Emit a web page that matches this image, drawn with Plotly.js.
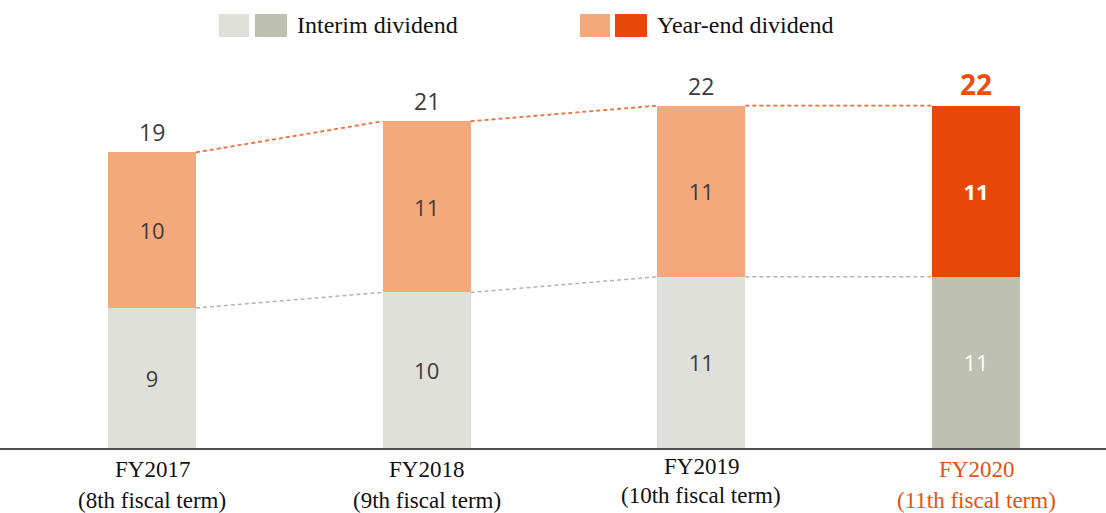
<!DOCTYPE html>
<html>
<head>
<meta charset="utf-8">
<script src="https://cdn.plot.ly/plotly-3.0.1.min.js"></script>
<style>html,body{margin:0;padding:0;background:#fff;}#chart{width:1106px;height:513px;}</style>
</head>
<body>
<div id="chart"></div>
<script>
// ---- data ----
const years = ["FY2017", "FY2018", "FY2019", "FY2020"];
const terms = ["(8th fiscal term)", "(9th fiscal term)", "(10th fiscal term)", "(11th fiscal term)"];
const interim = [9, 10, 11, 11];
const yearEnd = [10, 11, 11, 11];
const legendNames = ["Interim dividend", "Year-end dividend"];

// ---- styles ----
const interimColors = ["#DFE0D9", "#DFE0D9", "#DFE0D9", "#BEC1B1"];
const yearEndColors = ["#F4A97C", "#F4A97C", "#F4A97C", "#E8470A"];
const labelColors = ["#3c3c3c", "#3c3c3c", "#3c3c3c", "#ffffff"];
const accent = "#E9500F";
const barW = 0.32;
const W = 1106, H = 513, mT = 59, mB = 65;
const plotH = H - mT - mB;

const xs = years.map((_, i) => i);
const totals = interim.map((v, i) => v + yearEnd[i]);
const last = years.length - 1;

function connector(vals) {
  const x = [], y = [];
  for (let i = 0; i < vals.length - 1; i++) {
    x.push(i + barW / 2, i + 1 - barW / 2, null);
    y.push(vals[i], vals[i + 1], null);
  }
  return {x, y};
}
const cTot = connector(totals);
const cInt = connector(interim);

const traces = [
  {
    type: "bar", x: xs, y: interim, width: barW,
    marker: {color: interimColors, line: {width: 0}},
    text: interim.map(String), textposition: "inside", insidetextanchor: "middle",
    textfont: {family: "Open Sans", size: 22, color: labelColors},
    constraintext: "none", hoverinfo: "skip"
  },
  {
    type: "bar", x: xs, y: yearEnd, width: barW,
    marker: {color: yearEndColors, line: {width: 0}},
    text: yearEnd.map((v, i) => i === last ? "<b>" + v + "</b>" : String(v)),
    textposition: "inside", insidetextanchor: "middle",
    textfont: {family: "Open Sans", size: 22, color: labelColors},
    constraintext: "none", hoverinfo: "skip"
  },
  {
    type: "scatter", mode: "lines", x: cTot.x, y: cTot.y,
    line: {color: "#EE6E3C", width: 1.8, dash: "4px,3px"}, hoverinfo: "skip"
  },
  {
    type: "scatter", mode: "lines", x: cInt.x, y: cInt.y,
    line: {color: "#B4B4AC", width: 1.5, dash: "4px,3px"}, hoverinfo: "skip"
  }
];

// value labels on top
const annotations = [];
totals.forEach((t, i) => {
  annotations.push({
    x: i, y: t, xref: "x", yref: "y", yanchor: "bottom", yshift: i === last ? 1 : 2,
    text: i === last ? "<b>" + t + "</b>" : String(t), showarrow: false,
    font: {family: "Open Sans", size: i === last ? 28 : 23, color: i === last ? accent : "#3c3c3c"}
  });
});

// x category labels
function py(px) { return (H - mB - px) / plotH; }
function pxx(px) { return px / W; }
years.forEach((yr, i) => {
  const off = i === 2 ? -4 : 0;
  const col = i === last ? accent : "#111111";
  annotations.push({x: i, y: py(470 + off), xref: "x", yref: "paper", yanchor: "middle",
    text: yr, showarrow: false, font: {family: "Liberation Serif", size: 23, color: col}});
  annotations.push({x: i, y: py(500 + off), xref: "x", yref: "paper", yanchor: "middle",
    text: terms[i], showarrow: false, font: {family: "Liberation Serif", size: 23, color: col}});
});

// legend
const shapes = [];
function swatch(x0, x1, color) {
  shapes.push({type: "rect", xref: "paper", yref: "paper", x0: pxx(x0), x1: pxx(x1),
    y0: py(37), y1: py(14), fillcolor: color, line: {width: 0}});
}
swatch(219, 249, interimColors[0]);
swatch(255, 287, interimColors[last]);
swatch(580, 610, yearEndColors[0]);
swatch(615, 647, yearEndColors[last]);
annotations.push({x: pxx(295), y: py(25), xref: "paper", yref: "paper", xanchor: "left", yanchor: "middle",
  text: legendNames[0], showarrow: false, font: {family: "Liberation Serif", size: 24, color: "#111"}});
annotations.push({x: pxx(655), y: py(25), xref: "paper", yref: "paper", xanchor: "left", yanchor: "middle",
  text: legendNames[1], showarrow: false, font: {family: "Liberation Serif", size: 24, color: "#111"}});

const layout = {
  width: W, height: H,
  margin: {l: 0, r: 0, t: mT, b: mB, pad: 0},
  paper_bgcolor: "#fff", plot_bgcolor: "#fff",
  barmode: "stack", showlegend: false,
  xaxis: {range: [-152 / 274.67, 3 + 130 / 274.67], showgrid: false, zeroline: false,
    showticklabels: false, ticks: "", showline: true, linecolor: "#505050", linewidth: 2, fixedrange: true},
  yaxis: {range: [0, plotH / 15.56], showgrid: false, zeroline: false, showticklabels: false,
    ticks: "", showline: false, fixedrange: true},
  annotations: annotations, shapes: shapes
};

Plotly.newPlot("chart", traces, layout, {displayModeBar: false, staticPlot: true});
</script>
</body>
</html>
